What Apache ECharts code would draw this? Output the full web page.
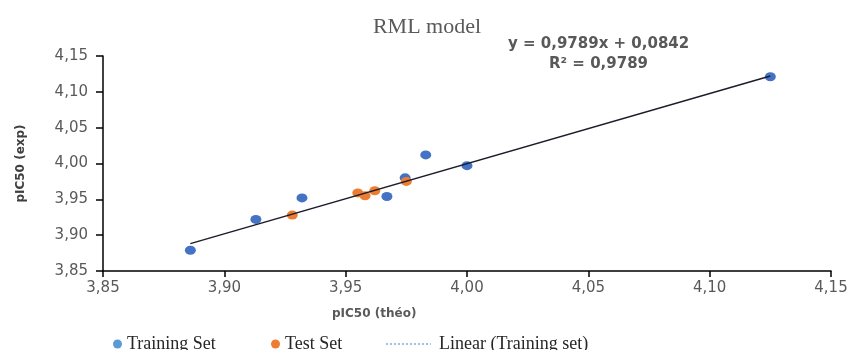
<!DOCTYPE html>
<html>
<head>
<meta charset="utf-8">
<script src="https://cdn.jsdelivr.net/npm/echarts@6/dist/echarts.min.js"></script>
<style>html,body{margin:0;padding:0;background:#fff;}#c{width:854px;height:350px;}</style>
</head>
<body>
<div id="c"></div>
<script>
// Data
const trainX = [3.886, 3.913, 3.932, 3.967, 3.9745, 3.983, 4.000, 4.125];
const trainY = [3.879, 3.922, 3.952, 3.954, 3.980, 4.012, 3.997, 4.121];
const testX = [3.928, 3.955, 3.958, 3.962, 3.975];
const testY = [3.928, 3.959, 3.955, 3.962, 3.975];
const slope = 0.9789;
const intercept = 0.0842;
const axisTicks = [3.85, 3.90, 3.95, 4.00, 4.05, 4.10, 4.15];
const eqText = 'y = 0,9789x + 0,0842';
const r2Text = 'R² = 0,9789';

const trainData = trainX.map((x, i) => [x, trainY[i]]);
const testData = testX.map((x, i) => [x, testY[i]]);
const xMin = Math.min(...trainX), xMax = Math.max(...trainX);
const lineData = [[xMin, slope * xMin + intercept], [xMax, slope * xMax + intercept]];

const fmt = v => v.toFixed(2).replace('.', ',');
const tickFont = {color: '#595959', fontFamily: 'DejaVu Sans', fontSize: 15};

const chart = echarts.init(document.getElementById('c'), null, {renderer: 'canvas'});
chart.setOption({
  animation: false,
  backgroundColor: '#ffffff',
  title: {
    text: 'RML model',
    left: 'center',
    top: 11,
    textStyle: {fontFamily: 'Liberation Serif', fontWeight: 'normal', fontSize: 22, color: '#595959'}
  },
  grid: {left: 103, right: 23, top: 56, bottom: 79},
  xAxis: {
    type: 'value',
    min: axisTicks[0], max: axisTicks[axisTicks.length - 1], interval: 0.05,
    axisLine: {show: true, lineStyle: {color: '#000', width: 1.5}},
    axisTick: {show: true, length: 6, lineStyle: {color: '#000', width: 1.5}},
    splitLine: {show: false},
    axisLabel: Object.assign({formatter: fmt, margin: 10}, tickFont)
  },
  yAxis: {
    type: 'value',
    min: axisTicks[0], max: axisTicks[axisTicks.length - 1], interval: 0.05,
    name: 'pIC50 (exp)',
    nameLocation: 'middle',
    nameGap: 76,
    nameTextStyle: {fontFamily: 'DejaVu Sans', fontWeight: 'bold', fontSize: 12, color: '#404040'},
    axisLine: {show: true, lineStyle: {color: '#000', width: 1.5}},
    axisTick: {show: true, length: 7, lineStyle: {color: '#000', width: 1.5}},
    splitLine: {show: false},
    axisLabel: Object.assign({formatter: fmt, margin: 15}, tickFont)
  },
  legend: [
    {
      data: [{name: 'Training Set', icon: 'circle', itemStyle: {color: '#5B9BD5'}}],
      left: 108, top: 330, itemWidth: 9, itemHeight: 9, itemGap: 0,
      textStyle: {fontFamily: 'Liberation Serif', fontSize: 18, color: '#262626'}
    },
    {
      data: [{name: 'Test Set', icon: 'circle', itemStyle: {color: '#ED7D31'}}],
      left: 266, top: 330, itemWidth: 9, itemHeight: 9, itemGap: 0,
      textStyle: {fontFamily: 'Liberation Serif', fontSize: 18, color: '#262626'}
    },
    {
      data: [{name: 'Linear (Training set)', itemStyle: {opacity: 0}, lineStyle: {color: '#9DC3E6', type: 'dotted', width: 2, opacity: 1}}],
      left: 380, top: 330, itemWidth: 45, itemHeight: 9, itemGap: 0,
      textStyle: {fontFamily: 'Liberation Serif', fontSize: 18, color: '#262626', padding: [0, 0, 0, 3]}
    }
  ],
  graphic: [
    {type: 'text', left: 332, top: 308, style: {text: 'pIC50 (théo)', fill: '#595959', font: 'bold 12px "DejaVu Sans"'}},
    {type: 'text', left: 508, top: 37, style: {text: eqText, fill: '#595959', font: 'bold 15px "DejaVu Sans"'}},
    {type: 'text', left: 549, top: 57, style: {text: r2Text, fill: '#595959', font: 'bold 15px "DejaVu Sans"'}}
  ],
  series: [
    {
      name: 'Linear (Training set)', type: 'line', data: lineData, symbol: 'none', showSymbol: false,
      lineStyle: {color: '#1c1c2a', width: 1.5}, z: 3, silent: true
    },
    {
      name: 'Training Set', type: 'scatter', data: trainData, symbol: 'circle', symbolSize: [11, 9],
      itemStyle: {color: '#4472C4', opacity: 1}, z: 2
    },
    {
      name: 'Test Set', type: 'scatter', data: testData, symbol: 'circle', symbolSize: [11, 9],
      itemStyle: {color: '#ED7D31', opacity: 1}, z: 2
    }
  ]
});
</script>
</body>
</html>
